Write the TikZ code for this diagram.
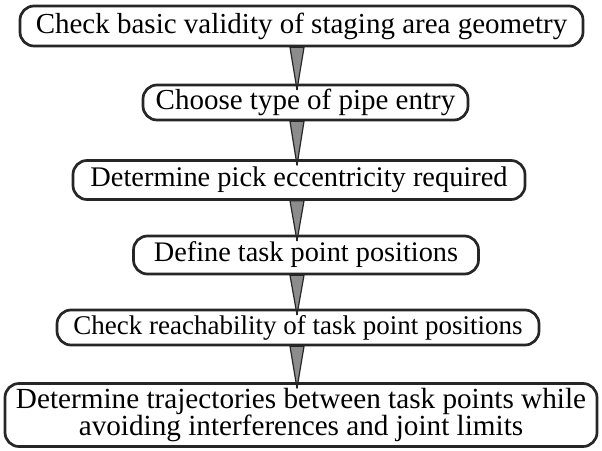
\documentclass[tikz,border=0pt]{standalone}
\usepackage{fontspec}
\setmainfont{Liberation Serif}
\newcommand{\fsz}[1]{\fontsize{#1}{27}\selectfont}
\begin{document}
\begin{tikzpicture}[x=1pt,y=-1pt,
  box/.style={draw=black!85, line width=2.7pt, rounded corners=14pt, inner sep=0pt,
    font=\fsz{29}, align=center},
  arrowfill/.style={draw=black!85, line width=1.2pt, fill=black!45, line join=round}]
\useasboundingbox (0,0) rectangle (602,450);
\node[box, minimum width=563, minimum height=40] (b1) at (301.5,26) {Check basic validity of staging area geometry};
\node[box, minimum width=325, minimum height=35] (b2) at (305.5,102.5) {Choose type of pipe entry};
\node[box, font=\fsz{28.4}, minimum width=452, minimum height=39] (b3) at (299,180) {Determine pick eccentricity required};
\node[box, font=\fsz{28.3}, minimum width=345, minimum height=38] (b4) at (306,255) {Define task point positions};
\node[box, font=\fsz{27}, minimum width=482, minimum height=35] (b5) at (298,327.5) {Check reachability of task point positions};
\node[box, font=\fsz{29.2}, minimum width=592, minimum height=63] (b6) at (301,415) {Determine trajectories between task points while\\ avoiding interferences and joint limits};
\coordinate (ax) at (297,0);
\foreach \a/\b in {b1/b2,b2/b3,b3/b4,b4/b5,b5/b6}{
  \filldraw[arrowfill] ([xshift=-7pt]\a.south -| ax) -- ([xshift=7pt]\a.south -| ax) -- ([yshift=-6pt]\b.north -| ax) -- cycle;
  \draw[black!85, line width=1.2pt] ([yshift=-6pt]\b.north -| ax) -- (\b.north -| ax);
}
\end{tikzpicture}
\end{document}
